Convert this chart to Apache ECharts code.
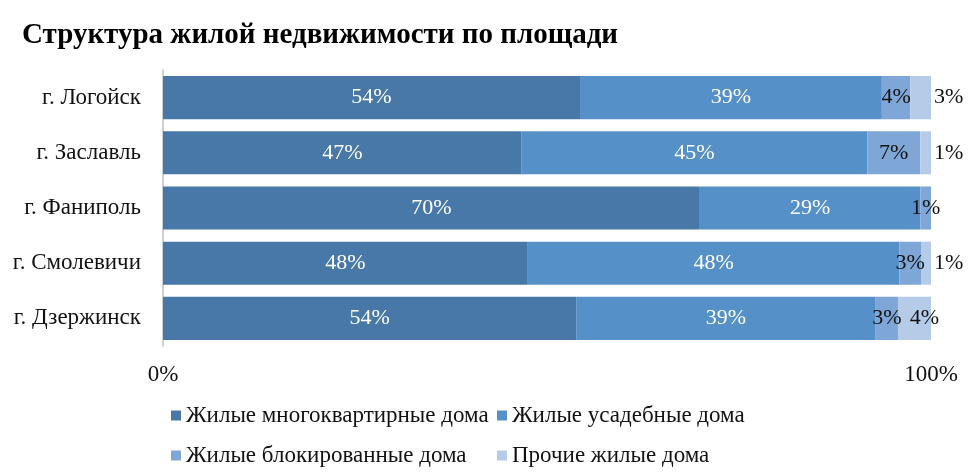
<!DOCTYPE html>
<html>
<head>
<meta charset="UTF-8">
<script src="https://cdn.jsdelivr.net/npm/echarts@6/dist/echarts.min.js"></script>
<style>
html, body { margin: 0; padding: 0; background: #fff; }
#container { width: 969px; height: 474px; }
</style>
</head>
<body>
<div id="container"></div>
<script type="text/javascript">
var cities = ['г. Логойск', 'г. Заславль', 'г. Фаниполь', 'г. Смолевичи', 'г. Дзержинск'];
var seriesNames = ['Жилые многоквартирные дома', 'Жилые усадебные дома', 'Жилые блокированные дома', 'Прочие жилые дома'];
var multiFlat = [54.3, 46.7, 69.9, 47.5, 53.8];
var estate = [39.3, 45.0, 28.7, 48.4, 39.0];
var blocked = [3.7, 6.9, 1.4, 2.8, 2.9];
var other = [2.7, 1.4, 0, 1.3, 4.3];
var colors = ['#4778a8', '#5590c8', '#7ea7d8', '#b5cbe8'];
var labelColors = ['#ffffff', '#ffffff', '#111111', '#111111'];

var font = 'Liberation Serif';
var myChart = echarts.init(document.getElementById('container'));

function makeSeries(idx, values) {
    var data = [];
    for (var i = 0; i < values.length; i++) {
        var item = { value: values[i] };
        if (values[i] === 0) {
            item.label = { show: false };
        } else if (idx === 3) {
            // last segments: labels pushed a bit to the right, like in Excel
            if (values[i] < 4) {
                item.label = { position: 'right', distance: 3 };
            } else {
                item.label = { offset: [10, 0] };
            }
        }
        data.push(item);
    }
    return {
        name: seriesNames[idx],
        type: 'bar',
        stack: 'total',
        barCategoryGap: '22%',
        itemStyle: { color: colors[idx] },
        label: {
            show: true,
            position: 'inside',
            color: labelColors[idx],
            fontFamily: font,
            fontSize: 22,
            formatter: function (p) { return Math.round(p.value) + '%'; }
        },
        data: data
    };
}

var option = {
    backgroundColor: '#ffffff',
    animation: false,
    title: {
        text: 'Структура жилой недвижимости по площади',
        left: 17,
        top: 16,
        textStyle: { fontFamily: font, fontWeight: 'bold', fontSize: 29, color: '#000' }
    },
    legend: {
        left: 166,
        top: 391,
        width: 680,
        itemWidth: 10,
        itemHeight: 10,
        itemGap: 1,
        icon: 'rect',
        textStyle: { fontFamily: font, fontSize: 23, color: '#111', width: 310, lineHeight: 39 },
        data: seriesNames
    },
    grid: { left: 163, right: 38, top: 70, bottom: 128 },
    xAxis: {
        type: 'value',
        min: 0,
        max: 100,
        interval: 100,
        axisLine: { show: false },
        axisTick: { show: false },
        splitLine: { show: false },
        axisLabel: {
            margin: 17,
            fontFamily: font,
            fontSize: 23,
            color: '#111',
            formatter: '{value}%'
        }
    },
    yAxis: {
        type: 'category',
        inverse: true,
        data: cities,
        axisLine: { show: true, lineStyle: { color: '#d0d0d0', width: 2 } },
        axisTick: { show: false },
        axisLabel: { margin: 22, fontFamily: font, fontSize: 23, color: '#111' }
    },
    series: [
        makeSeries(0, multiFlat),
        makeSeries(1, estate),
        makeSeries(2, blocked),
        makeSeries(3, other)
    ]
};
myChart.setOption(option);
</script>
</body>
</html>
